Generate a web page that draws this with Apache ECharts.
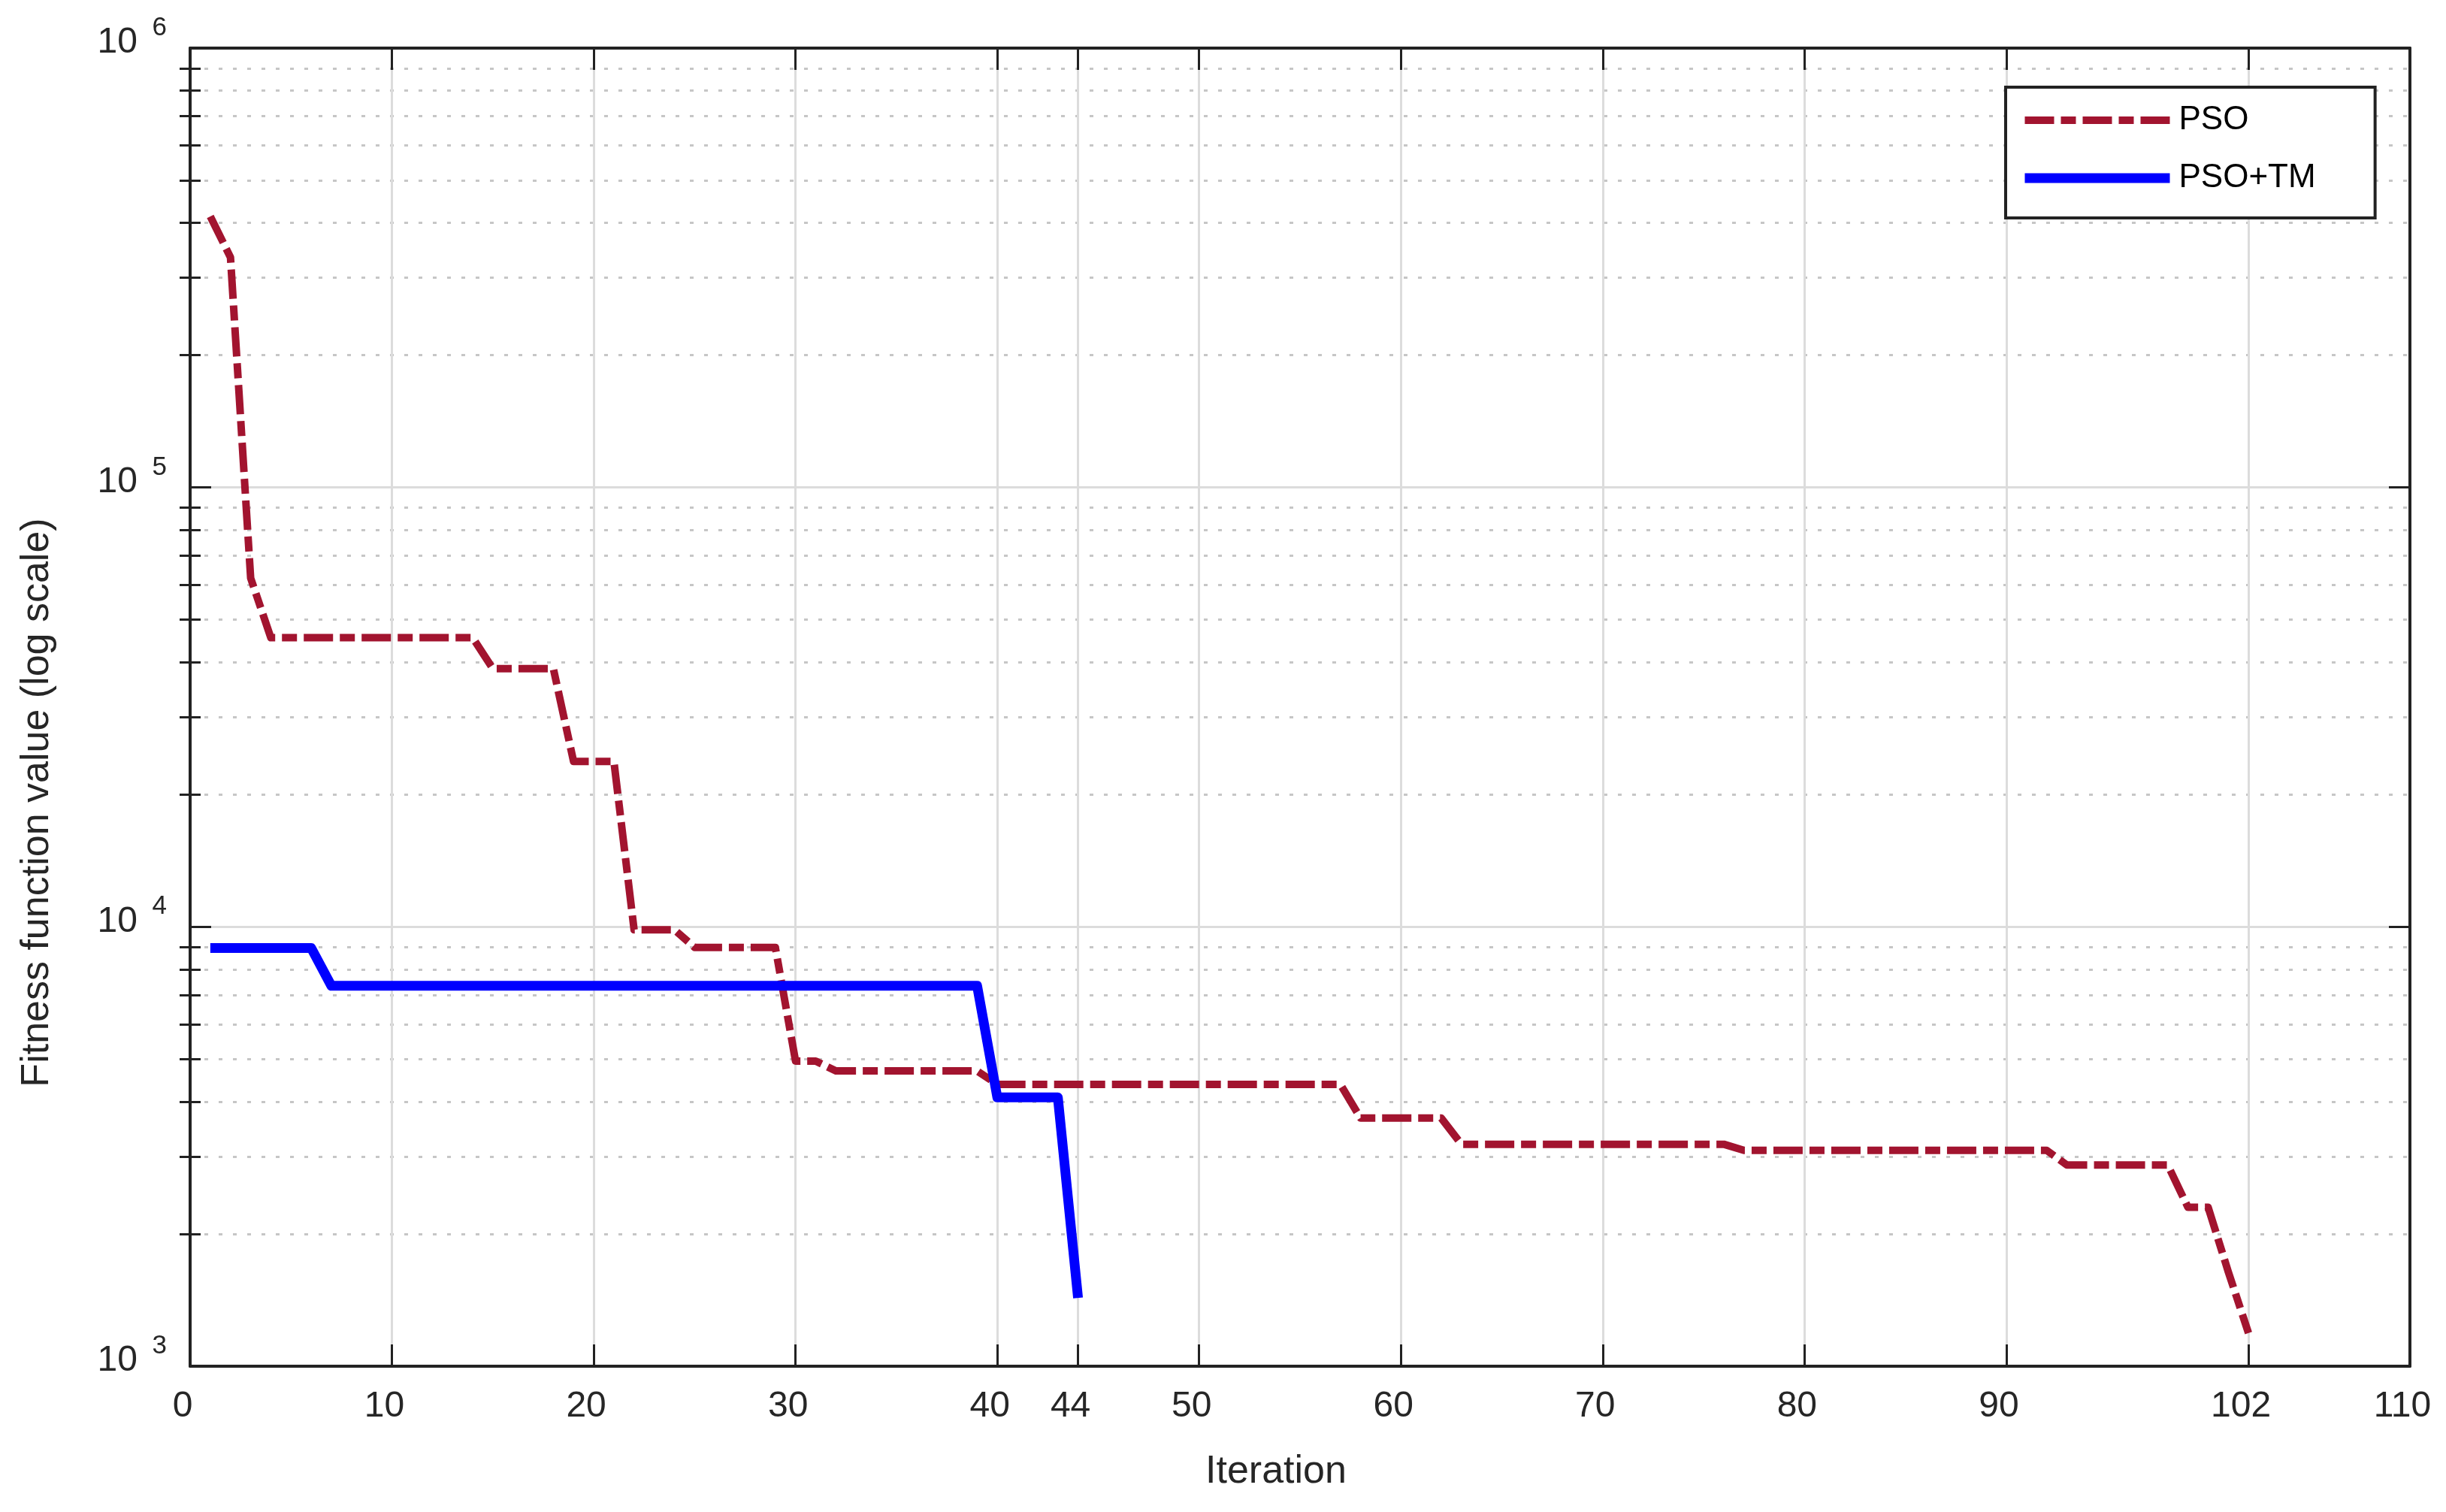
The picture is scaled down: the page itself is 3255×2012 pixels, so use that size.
<!DOCTYPE html>
<html>
<head>
<meta charset="utf-8">
<title>PSO vs PSO+TM</title>
<script src="https://cdn.jsdelivr.net/npm/echarts@6.0.0/dist/echarts.min.js"></script>
<style>
  html, body { margin: 0; padding: 0; background: #fff; }
  #box { width: 3255px; height: 2012px; }
</style>
</head>
<body>
<div id="box"></div>
<script>
// best fitness per iteration (iteration = index + 1)
var psoValues = [
  414000, 334000, 62200, 45500, 45500, 45500, 45500, 45500, 45500, 45500,
  45500, 45500, 45500, 45500, 38700, 38700, 38700, 38700, 23800, 23800,
  23800, 9850, 9850, 9850, 8980, 8980, 8980, 8980, 8980, 4950,
  4950, 4700, 4700, 4700, 4700, 4700, 4700, 4700, 4700, 4380,
  4380, 4380, 4380, 4380, 4380, 4380, 4380, 4380, 4380, 4380,
  4380, 4380, 4380, 4380, 4380, 4380, 4380, 3670, 3670, 3670,
  3670, 3670, 3200, 3200, 3200, 3200, 3200, 3200, 3200, 3200,
  3200, 3200, 3200, 3200, 3200, 3200, 3100, 3100, 3100, 3100,
  3100, 3100, 3100, 3100, 3100, 3100, 3100, 3100, 3100, 3100,
  3100, 3100, 2870, 2870, 2870, 2870, 2870, 2870, 2300, 2300,
  1640, 1190
];
var psoTmValues = [
  8950, 8950, 8950, 8950, 8950, 8950, 7340, 7340, 7340, 7340,
  7340, 7340, 7340, 7340, 7340, 7340, 7340, 7340, 7340, 7340,
  7340, 7340, 7340, 7340, 7340, 7340, 7340, 7340, 7340, 7340,
  7340, 7340, 7340, 7340, 7340, 7340, 7340, 7340, 7340, 4090,
  4090, 4090, 4090, 1430
];
var seriesNames = ['PSO', 'PSO+TM'];
var xTicks = [0, 10, 20, 30, 40, 44, 50, 60, 70, 80, 90, 102, 110];
var yTicks = [1000, 10000, 100000, 1000000];
var yMinorTicks = [
  2000, 3000, 4000, 5000, 6000, 7000, 8000, 9000,
  20000, 30000, 40000, 50000, 60000, 70000, 80000, 90000,
  200000, 300000, 400000, 500000, 600000, 700000, 800000, 900000
];

var fontFamily = 'Liberation Sans, Arial, Helvetica, sans-serif';
var ink = '#262626';
var axisInk = '#222222';

function toPairs(values) {
  return values.map(function (v, i) { return [i + 1, v]; });
}

// MATLAB style 10^n: base and exponent come from two overlapping axes,
// a blank second line lifts each one above the tick
function baseLabel() {
  return '10\n ';
}
function exponentLabel(v) {
  return Math.round(Math.log(v) / Math.LN10) + '\n ';
}

function logAxis(position, extra) {
  var ax = {
    type: 'log', logBase: 10, position: position, min: 1000, max: 1000000,
    axisLine: { show: false },
    axisTick: { show: false },
    axisLabel: { show: false },
    splitLine: { show: false }
  };
  for (var k in extra) ax[k] = extra[k];
  return ax;
}

var myChart = echarts.init(document.getElementById('box'));
var option = {
  backgroundColor: '#fff',
  animation: false,
  grid: {
    left: 253, right: 48, top: 64, bottom: 194,
    containLabel: false, outerBoundsMode: 'none'
  },
  legend: {
    orient: 'vertical',
    left: 2669, top: 116,
    padding: [22, 79, 31, 19],
    itemGap: 33,
    itemWidth: 193,
    itemHeight: 44,
    backgroundColor: '#fff',
    borderColor: axisInk,
    borderWidth: 4,
    borderRadius: 0,
    itemStyle: { color: 'rgba(0,0,0,0)', borderWidth: 0, opacity: 0 },
    textStyle: { fontFamily: fontFamily, fontSize: 44, color: '#000', padding: [0, 0, 13, 7] },
    data: [
      { name: seriesNames[0], lineStyle: { width: 10 } },
      { name: seriesNames[1], lineStyle: { width: 13 } }
    ]
  },
  xAxis: [{
    type: 'value', position: 'bottom', min: 0, max: 110,
    name: 'Iteration', nameLocation: 'middle', nameGap: 115,
    nameTextStyle: { fontFamily: fontFamily, fontSize: 52, lineHeight: 52, color: ink, padding: [0, 64, 0, 0] },
    axisLine: { show: true, onZero: false, lineStyle: { color: axisInk, width: 4 } },
    axisTick: { show: true, inside: true, length: 29, customValues: xTicks, lineStyle: { color: axisInk, width: 3 } },
    axisLabel: {
      show: true, customValues: xTicks, margin: 30, padding: [0, 20, 0, 0],
      fontFamily: fontFamily, fontSize: 48, color: ink
    },
    splitLine: { show: true, lineStyle: { color: '#dcdcdc', width: 3 } }
  }, {
    type: 'value', position: 'top', min: 0, max: 110,
    axisLine: { show: true, onZero: false, lineStyle: { color: axisInk, width: 4 } },
    axisTick: { show: true, inside: true, length: 29, customValues: xTicks, lineStyle: { color: axisInk, width: 3 } },
    axisLabel: { show: false },
    splitLine: { show: false }
  }],
  yAxis: [
    logAxis('left', {
      name: 'Fitness function value (log scale)', nameLocation: 'middle', nameGap: 177,
      nameMoveOverlap: false,
      nameTextStyle: { fontFamily: fontFamily, fontSize: 52, lineHeight: 52, color: ink, padding: [0, 254, 0, 0] },
      axisLine: { show: true, onZero: false, lineStyle: { color: axisInk, width: 4 } },
      axisTick: { show: true, inside: true, length: 28, customValues: yTicks, lineStyle: { color: axisInk, width: 3 } },
      axisLabel: {
        show: true, customValues: yTicks, margin: 70, formatter: baseLabel,
        fontFamily: fontFamily, fontSize: 48, lineHeight: 14, color: ink
      },
      splitLine: { show: true, lineStyle: { color: '#dcdcdc', width: 3 } }
    }),
    logAxis('left', {
      axisTick: { show: true, inside: true, length: 14, customValues: yMinorTicks, lineStyle: { color: axisInk, width: 3 } },
      splitLine: { show: true, lineStyle: { color: '#c6c6c6', width: 3, type: [5, 14] } }
    }),
    logAxis('right', {
      axisLine: { show: true, onZero: false, lineStyle: { color: axisInk, width: 4 } },
      axisTick: { show: true, inside: true, length: 28, customValues: yTicks, lineStyle: { color: axisInk, width: 3 } }
    }),
    logAxis('right', {
      axisTick: { show: true, inside: true, length: 14, customValues: yMinorTicks, lineStyle: { color: axisInk, width: 3 } }
    }),
    logAxis('left', {
      axisLabel: {
        show: true, customValues: yTicks, margin: 31, formatter: exponentLabel,
        fontFamily: fontFamily, fontSize: 35, lineHeight: 53, color: ink
      }
    })
  ],
  series: [{
    name: seriesNames[0], type: 'line', xAxisIndex: 0, yAxisIndex: 0,
    data: toPairs(psoValues),
    showSymbol: false, symbol: 'none',
    itemStyle: { color: '#A2142F' },
    lineStyle: { color: '#A2142F', width: 10, type: [39, 9, 20, 9], cap: 'butt', join: 'round' },
    z: 3
  }, {
    name: seriesNames[1], type: 'line', xAxisIndex: 0, yAxisIndex: 0,
    data: toPairs(psoTmValues),
    showSymbol: false, symbol: 'none',
    itemStyle: { color: '#0000FF' },
    lineStyle: { color: '#0000FF', width: 13, type: 'solid', cap: 'butt', join: 'round' },
    z: 4
  }]
};
myChart.setOption(option);
</script>
</body>
</html>
